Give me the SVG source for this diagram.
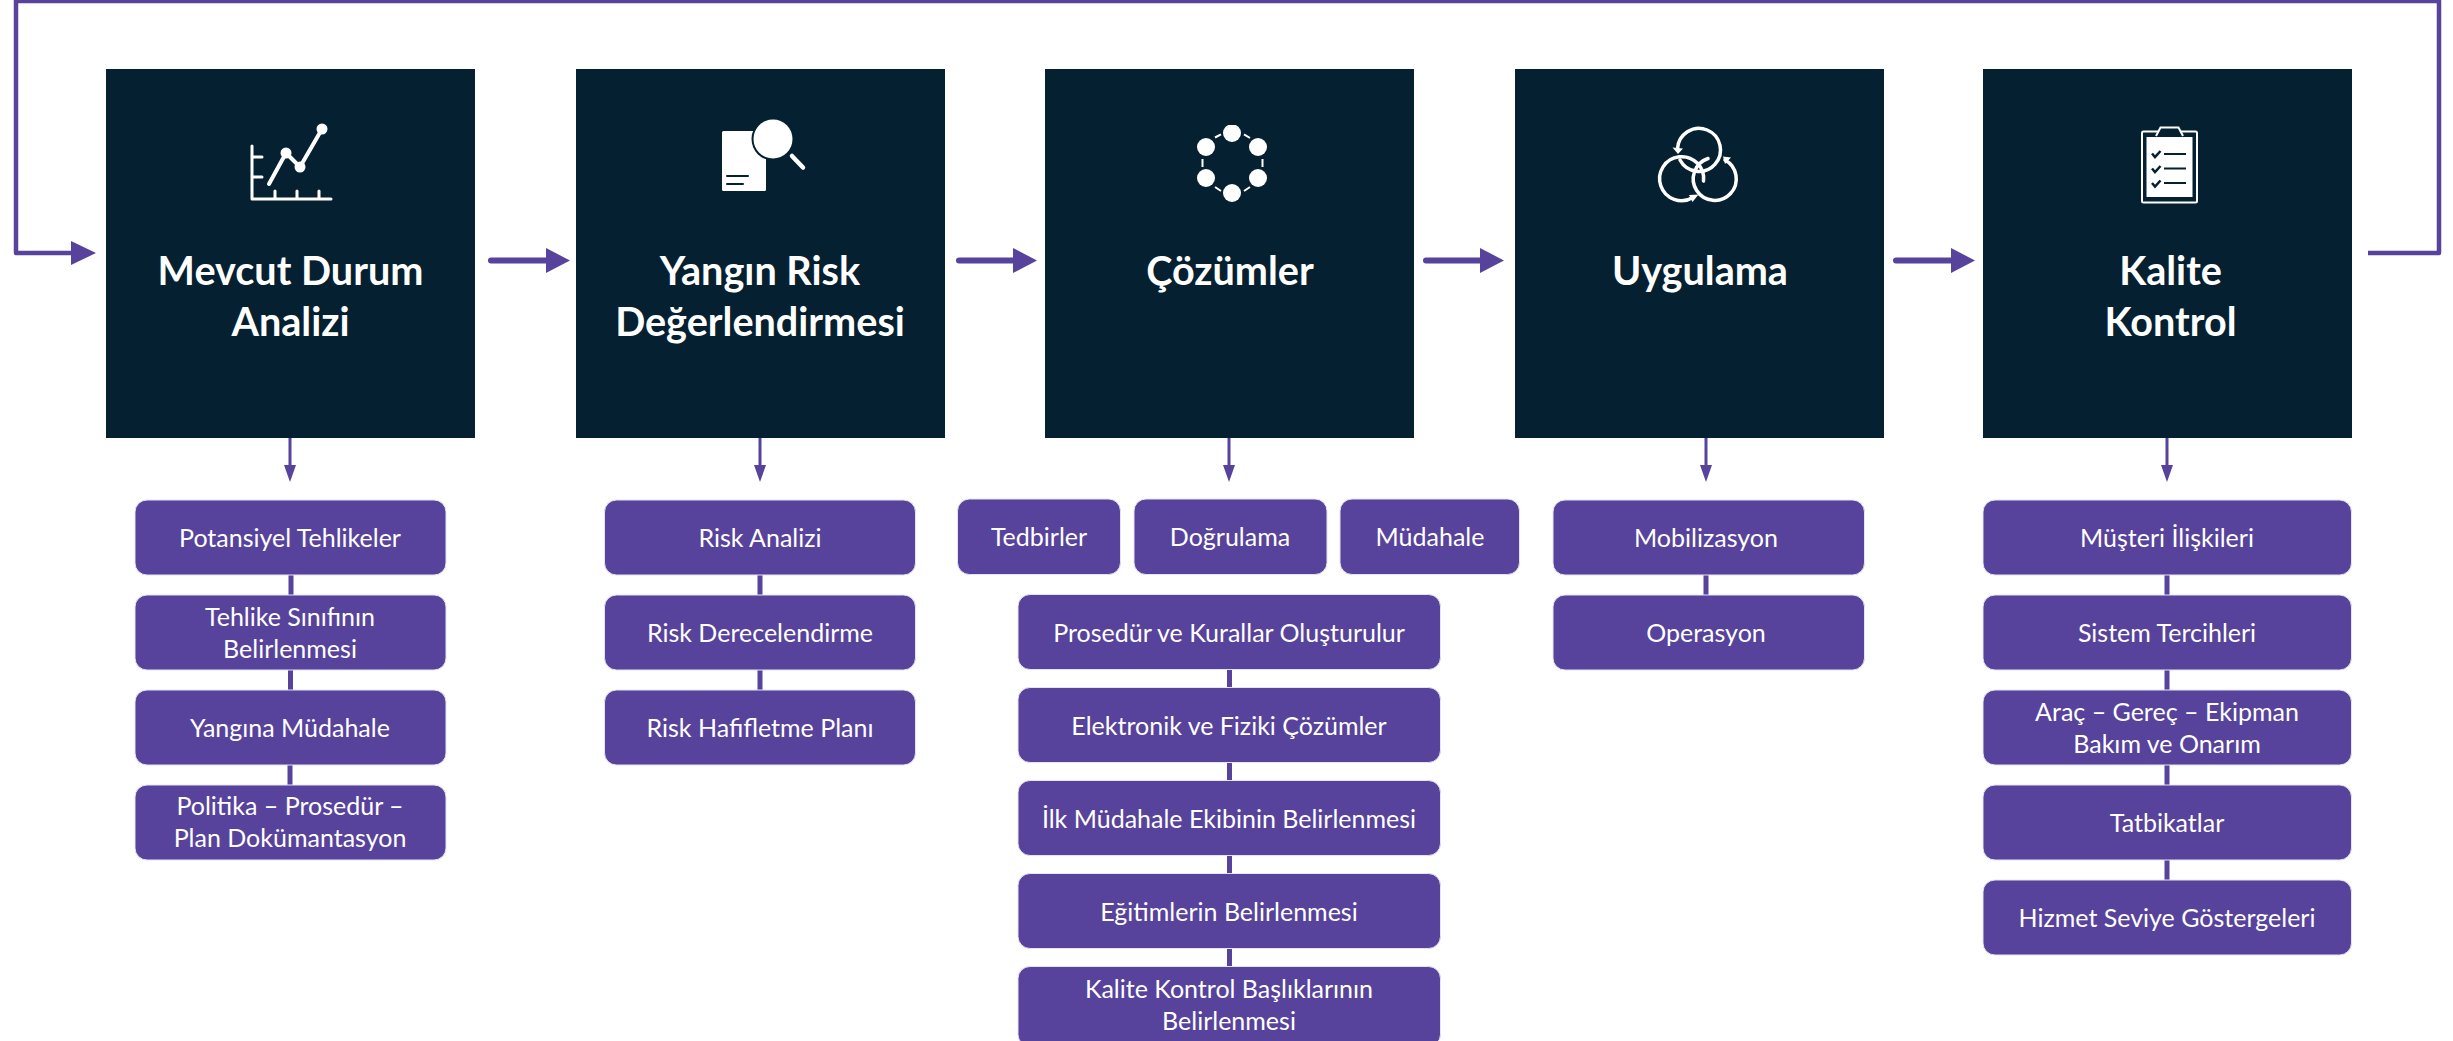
<svg xmlns="http://www.w3.org/2000/svg" width="2453" height="1041" viewBox="0 0 2453 1041">
<style>
.head{fill:#052031}
.sub{fill:#57439c;stroke:#e6e2f2;stroke-width:1}
.t{font-family:Lato,"Liberation Sans",sans-serif;text-anchor:middle;fill:#fff}
.h{font-size:39.6px;font-weight:700}
.s{font-size:25px}
.c{fill:none;stroke:#57439c;stroke-width:5}
.l{fill:none;stroke:#57439c;stroke-width:5}
.ar{fill:#57439c}
.iw{fill:none;stroke:#fff;stroke-width:3;stroke-linecap:round;stroke-linejoin:round}
.wf{fill:#fff}
.id{fill:none;stroke:#052031;stroke-width:2}
</style>
<rect width="2453" height="1041" fill="#fff"/>
<g id="connectors">
<path class="c" stroke-linejoin="round" d="M2368 253H2439V1H16V253H72" style="stroke-width:4.5"/>
<path class="ar" d="M71 241L96 253L71 265Z"/>
<path class="c" stroke-linecap="round" d="M491 260.500H548" style="stroke-width:6"/>
<path class="ar" d="M546 248L570 260.500L546 273Z"/>
<path class="c" stroke-linecap="round" d="M959 260.500H1015" style="stroke-width:6"/>
<path class="ar" d="M1013 248L1037 260.500L1013 273Z"/>
<path class="c" stroke-linecap="round" d="M1426 260.500H1482" style="stroke-width:6"/>
<path class="ar" d="M1480 248L1504 260.500L1480 273Z"/>
<path class="c" stroke-linecap="round" d="M1896 260.500H1953" style="stroke-width:6"/>
<path class="ar" d="M1951 248L1975 260.500L1951 273Z"/>
<path class="l" style="stroke-width:3" d="M290 438V466M760 438V466M1229 438V466M1706 438V466M2167 438V466"/>
<path class="ar" d="M284 465H296L290 482ZM754 465H766L760 482ZM1223 465H1235L1229 482ZM1700 465H1712L1706 482ZM2161 465H2173L2167 482Z"/>
<path class="l" d="M291 575V595M290.500 670V690M290 765V785M760 575V595M760 670V690M1229.500 670V688M1229.500 762V780M1229.500 855V873M1229.500 948V966M1706 575V595M2167 575V595M2167 670V690M2167 765V785M2167 860V880"/>
</g>
<g id="node-1">
<rect class="head" x="106" y="69" width="369" height="369"/>
<path class="iw" d="M252 146V199H331M252 157H262M252 177H262M275 191V199M297 191V199M319 191V199"/>
<path class="iw" style="stroke-width:4" d="M269 184L286 153L300 167L322 129"/><circle class="wf" cx="286" cy="153" r="5.500"/><circle class="wf" cx="300" cy="167" r="5.500"/><circle class="wf" cx="322" cy="129" r="5.500"/>
<text class="t h" x="290.500" y="285">Mevcut Durum</text><text class="t h" x="290.500" y="336">Analizi</text>
</g>
<g id="node-2">
<rect class="head" x="576" y="69" width="369" height="369"/>
<rect class="wf" x="722" y="131" width="44" height="60" rx="1.500"/>
<circle cx="773" cy="139" r="21.500" fill="#052031"/><circle class="wf" cx="773" cy="139" r="19.500"/>
<path class="iw" style="stroke-width:4.500" d="M792 156L803 167.500"/>
<path class="id" stroke-linecap="round" d="M727 176H748M727 184H743"/>
<text class="t h" x="760" y="285">Yangın Risk</text><text class="t h" x="760" y="336">Değerlendirmesi</text>
</g>
<g id="node-3">
<rect class="head" x="1045" y="69" width="369" height="369"/>
<g class="wf"><circle cx="1232" cy="133" r="9"/><circle cx="1258" cy="147" r="9"/><circle cx="1258" cy="178" r="9"/><circle cx="1232" cy="193" r="9"/><circle cx="1206" cy="178" r="9"/><circle cx="1206" cy="147" r="9"/></g>
<rect class="head" x="1220" y="120" width="24" height="5"/>
<path class="iw" style="stroke-width:2;stroke-linecap:butt" d="M1215 137.500L1221 134.300M1244 134.300L1250 138M1262.500 159V167M1250 187L1244 191M1215 187L1221 191M1202.500 159V167"/>
<text class="t h" x="1230" y="285">Çözümler</text>
</g>
<g id="node-4">
<rect class="head" x="1515" y="69" width="369" height="369"/>
<path class="iw" style="stroke-width:3.500" d="M1677.500 149A21.500 21.500 0 1 1 1680 160"/>
<path class="iw" style="stroke-width:3.500" d="M1703.500 181A22 22 0 1 0 1693 197.500"/>
<path class="iw" style="stroke-width:3.500" d="M1725 160A21.500 21.500 0 1 1 1708 158.500"/>
<path class="wf" d="M1672.500 147.500L1683 148.500L1678 154ZM1689 195L1698.500 194.500L1692.500 202ZM1723 156.500L1731 157.500L1725 164Z"/>
<text class="t h" x="1700" y="285">Uygulama</text>
</g>
<g id="node-5">
<rect class="head" x="1983" y="69" width="369" height="369"/>
<rect x="2142" y="131.500" width="55" height="71" rx="1.500" fill="none" stroke="#fff" stroke-width="2"/>
<rect class="wf" x="2146.500" y="137" width="46" height="60"/>
<path d="M2156 136L2160.500 127.500H2178.500L2183 136" fill="#052031" stroke="#fff" stroke-width="2"/>
<path fill="none" stroke="#052031" stroke-width="2.500" d="M2152 153.500L2155 157L2160.500 151M2152 168.500L2155 172L2160.500 166M2152 183L2155 186.500L2160.500 180.500"/>
<path class="id" d="M2164 154H2186M2164 168.500H2186M2164 183H2186"/>
<text class="t h" x="2170.500" y="285">Kalite</text><text class="t h" x="2170.500" y="336">Kontrol</text>
</g>
<g id="col-1-items">
<g id="n1-1"><rect class="sub" x="135" y="500" width="311" height="75" rx="12"/><text class="t s" x="290" y="547">Potansiyel Tehlikeler</text></g>
<g id="n1-2"><rect class="sub" x="135" y="595" width="311" height="75" rx="12"/><text class="t s" x="290" y="626">Tehlike Sınıfının</text><text class="t s" x="290" y="658">Belirlenmesi</text></g>
<g id="n1-3"><rect class="sub" x="135" y="690" width="311" height="75" rx="12"/><text class="t s" x="290" y="737">Yangına Müdahale</text></g>
<g id="n1-4"><rect class="sub" x="135" y="785" width="311" height="75" rx="12"/><text class="t s" x="290" y="815">Politika – Prosedür –</text><text class="t s" x="290" y="847">Plan Dokümantasyon</text></g>
</g>
<g id="col-2-items">
<g id="n2-1"><rect class="sub" x="604.500" y="500" width="311" height="75" rx="12"/><text class="t s" x="760" y="547">Risk Analizi</text></g>
<g id="n2-2"><rect class="sub" x="604.500" y="595" width="311" height="75" rx="12"/><text class="t s" x="760" y="642">Risk Derecelendirme</text></g>
<g id="n2-3"><rect class="sub" x="604.500" y="690" width="311" height="75" rx="12"/><text class="t s" x="760" y="737">Risk Hafifletme Planı</text></g>
</g>
<g id="col-3-items">
<g id="n3-a"><rect class="sub" x="957.500" y="499" width="163" height="75.500" rx="12"/><text class="t s" x="1039" y="546">Tedbirler</text></g>
<g id="n3-b"><rect class="sub" x="1134" y="499" width="193" height="75.500" rx="12"/><text class="t s" x="1230" y="546">Doğrulama</text></g>
<g id="n3-c"><rect class="sub" x="1340" y="499" width="179.500" height="75.500" rx="12"/><text class="t s" x="1430" y="546">Müdahale</text></g>
<g id="n3-1"><rect class="sub" x="1018" y="594.500" width="422.500" height="75" rx="12"/><text class="t s" x="1229" y="642">Prosedür ve Kurallar Oluşturulur</text></g>
<g id="n3-2"><rect class="sub" x="1018" y="687.500" width="422.500" height="75" rx="12"/><text class="t s" x="1229" y="735">Elektronik ve Fiziki Çözümler</text></g>
<g id="n3-3"><rect class="sub" x="1018" y="780.500" width="422.500" height="75" rx="12"/><text class="t s" x="1229" y="828">İlk Müdahale Ekibinin Belirlenmesi</text></g>
<g id="n3-4"><rect class="sub" x="1018" y="873.500" width="422.500" height="75" rx="12"/><text class="t s" x="1229" y="921">Eğitimlerin Belirlenmesi</text></g>
<g id="n3-5"><rect class="sub" x="1018" y="966.500" width="422.500" height="80" rx="12"/><text class="t s" x="1229" y="998">Kalite Kontrol Başlıklarının</text><text class="t s" x="1229" y="1030">Belirlenmesi</text></g>
</g>
<g id="col-4-items">
<g id="n4-1"><rect class="sub" x="1553" y="500" width="311.500" height="75" rx="12"/><text class="t s" x="1706" y="547">Mobilizasyon</text></g>
<g id="n4-2"><rect class="sub" x="1553" y="595" width="311.500" height="75" rx="12"/><text class="t s" x="1706" y="642">Operasyon</text></g>
</g>
<g id="col-5-items">
<g id="n5-1"><rect class="sub" x="1983" y="500" width="368.500" height="75" rx="12"/><text class="t s" x="2167" y="547">Müşteri İlişkileri</text></g>
<g id="n5-2"><rect class="sub" x="1983" y="595" width="368.500" height="75" rx="12"/><text class="t s" x="2167" y="642">Sistem Tercihleri</text></g>
<g id="n5-3"><rect class="sub" x="1983" y="690" width="368.500" height="75" rx="12"/><text class="t s" x="2167" y="721">Araç – Gereç – Ekipman</text><text class="t s" x="2167" y="753">Bakım ve Onarım</text></g>
<g id="n5-4"><rect class="sub" x="1983" y="785" width="368.500" height="75" rx="12"/><text class="t s" x="2167" y="832">Tatbikatlar</text></g>
<g id="n5-5"><rect class="sub" x="1983" y="880" width="368.500" height="75" rx="12"/><text class="t s" x="2167" y="927">Hizmet Seviye Göstergeleri</text></g>
</g>
</svg>
